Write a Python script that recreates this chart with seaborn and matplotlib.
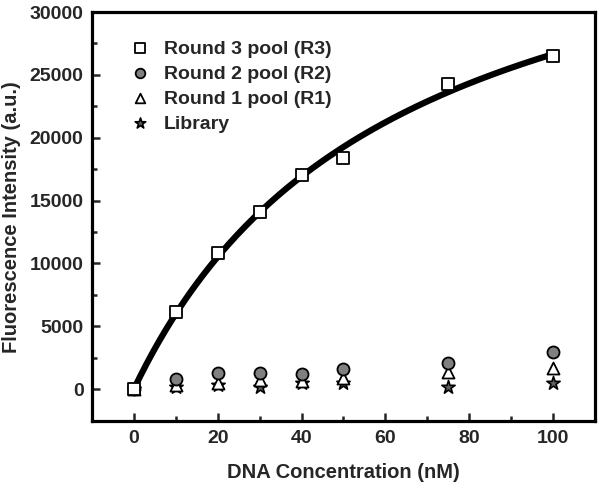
import numpy as np
import pandas as pd
import matplotlib
matplotlib.use("Agg")
import matplotlib.pyplot as plt
import seaborn as sns
from matplotlib.ticker import MultipleLocator

# data
conc = [0, 10, 20, 30, 40, 50, 75, 100]
r3 = [0, 6100, 10800, 14100, 17000, 18400, 24300, 26500]
r2 = [0, 790, 1270, 1270, 1190, 1590, 2070, 2950]
r1 = [0, 300, 500, 700, 650, 850, 1400, 1650]
library = [0, 190, 320, 190, 450, 450, 160, 500]

sns.set_theme(style="ticks")
plt.rcParams["font.family"] = ["Liberation Sans", "DejaVu Sans"]
plt.rcParams["font.weight"] = "bold"

fig = plt.figure(figsize=(6.01, 4.83), dpi=100)
ax = fig.add_axes([0.153, 0.128, 0.837, 0.847])

# one-site binding fit Y = Bmax*x/(Kd+x), grid search on Kd with linear Bmax
x = np.array(conc, dtype=float)
y = np.array(r3, dtype=float)
best = None
for kd in np.linspace(1, 300, 3000):
    f = x / (kd + x)
    bmax = (f @ y) / (f @ f)
    err = np.sum((y - bmax * f) ** 2)
    if best is None or err < best[0]:
        best = (err, kd, bmax)
_, kd, bmax = best
xf = np.linspace(0, 100, 200)
fit = pd.DataFrame({"x": xf, "y": bmax * xf / (kd + xf)})
sns.lineplot(data=fit, x="x", y="y", ax=ax, color="black", lw=4.5, zorder=2)

ms = 75
sns.scatterplot(x=conc, y=library, ax=ax, marker="*", s=100, color="#606060",
                edgecolor="black", linewidth=1.2, label="Library", zorder=3)
sns.scatterplot(x=conc, y=r1, ax=ax, marker="^", s=ms, color="white",
                edgecolor="black", linewidth=1.3, label="Round 1 pool (R1)", zorder=4)
sns.scatterplot(x=conc, y=r2, ax=ax, marker="o", s=ms, color="#808080",
                edgecolor="black", linewidth=1.3, label="Round 2 pool (R2)", zorder=5)
sns.scatterplot(x=conc, y=r3, ax=ax, marker="s", s=ms, color="white",
                edgecolor="black", linewidth=1.3, label="Round 3 pool (R3)", zorder=6)

handles, labels = ax.get_legend_handles_labels()
order = [3, 2, 1, 0]
ax.legend([handles[i] for i in order], [labels[i] for i in order],
          loc="upper left", bbox_to_anchor=(0.025, 0.97), frameon=False,
          prop={"weight": "bold", "size": 14}, handletextpad=0.25,
          labelspacing=0.38, markerscale=0.8, borderpad=0.3)

ax.set_xlim(-10, 110)
ax.set_ylim(-2550, 30000)
ax.xaxis.set_major_locator(MultipleLocator(20))
ax.xaxis.set_minor_locator(MultipleLocator(10))
ax.yaxis.set_major_locator(MultipleLocator(5000))
ax.yaxis.set_minor_locator(MultipleLocator(2500))
ax.tick_params(which="both", direction="in", top=False, right=False,
               width=1.8, labelsize=14, pad=6)
ax.tick_params(which="major", length=6)
ax.tick_params(which="minor", length=3.5)
for lab in ax.get_xticklabels() + ax.get_yticklabels():
    lab.set_fontweight("bold")
for sp in ax.spines.values():
    sp.set_linewidth(2.3)
    sp.set_color("black")

ax.set_xlabel("DNA Concentration (nM)", fontsize=14.5, fontweight="bold", labelpad=12)
ax.set_ylabel("Fluorescence Intensity (a.u.)", fontsize=14.5, fontweight="bold", labelpad=6)

fig.savefig("out.png", dpi=100)
